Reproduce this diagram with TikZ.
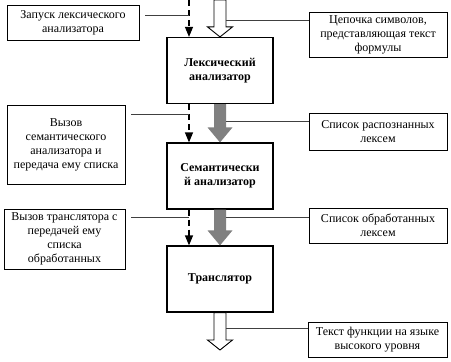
\documentclass[tikz,border=0pt]{standalone}
\usepackage{fontspec}
\setmainfont{Liberation Serif}
\usetikzlibrary{arrows.meta,calc}

\newcommand{\blockarrow}[4]{%
  \path[#1] ($(#2)+(-6,0)$) -- ($(#3)+(-6,#4)$) -- ($(#3)+(-12.5,#4)$) -- (#3)
    -- ($(#3)+(12.5,#4)$) -- ($(#3)+(6,#4)$) -- ($(#2)+(6,0)$) -- cycle;}

\begin{document}
\begin{tikzpicture}[x=1pt,y=1pt,
  stage/.style={draw,line width=1.2pt,minimum width=106,minimum height=66,inner sep=0,
    align=center,font=\fontsize{12}{14}\selectfont\bfseries},
  note/.style={draw,line width=0.7pt,inner sep=0,align=center,font=\fontsize{12}{14}\selectfont},
  callout/.style={line width=0.7pt,black!75},
  ctrl/.style={line width=1.2pt,dash pattern=on 6pt off 4pt,-{Triangle[width=8pt,length=10pt]}},
  hollow/.style={draw,fill=white,line width=0.9pt},
  solid/.style={fill=black!50}]
  \useasboundingbox (0,0) rectangle (451,-362);
  \node[stage] (lex) at (220,-70.5) {Лексический\\анализатор};
  \node[stage] (sem) at (220,-176) {Семантически\\й анализатор};
  \node[stage] (trans) at (220,-279) {Транслятор};
  \node[note,minimum width=132,minimum height=35] (start) at (73,-22.5) {Запуск лексического\\анализатора};
  \node[note,minimum width=118,minimum height=79] (callsem) at (66,-144.5) {Вызов\\семантического\\анализатора и\\передача ему списка};
  \node[note,minimum width=121,minimum height=60] (calltr) at (64.5,-239) {Вызов транслятора с\\передачей ему\\списка\\обработанных};
  \node[note,minimum width=138,minimum height=45] (chars) at (378,-34.5) {Цепочка символов,\\представляющая текст\\формулы};
  \node[note,minimum width=138,minimum height=37] (lexemes) at (378,-131.5) {Список распознанных\\лексем};
  \node[note,minimum width=138,minimum height=35] (done) at (378,-225.5) {Список обработанных\\лексем};
  \node[note,minimum width=139,minimum height=35] (result) at (377.5,-339.5) {Текст функции на языке\\высокого уровня};
  \coordinate (ctl) at (189,0);
  \coordinate (in) at (220,0);
  \coordinate (out) at (220,-350);
  \coordinate (shaft) at (226,0);
  \draw[ctrl] (ctl) -- (ctl |- lex.north);
  \draw[ctrl] (ctl |- lex.south) -- (ctl |- sem.north);
  \draw[ctrl] (ctl |- sem.south) -- (ctl |- trans.north);
  \blockarrow{hollow}{in}{lex.north}{10}
  \blockarrow{solid}{lex.south}{sem.north}{15}
  \blockarrow{solid}{sem.south}{trans.north}{15}
  \blockarrow{hollow}{trans.south}{out}{10}
  \draw[callout] ([shift={(6,-11)}]start.north east) coordinate (s1) -- (s1 -| ctl);
  \draw[callout] ([shift={(6,-10)}]callsem.north east) coordinate (s2) -- (s2 -| ctl);
  \draw[callout] ([shift={(6,-9)}]calltr.north east) coordinate (s3) -- (s3 -| ctl);
  \draw[callout] ([yshift=-9]chars.north west) coordinate (r1) -- (r1 -| shaft);
  \draw[callout] ([yshift=-9]lexemes.north west) coordinate (r2) -- (r2 -| shaft);
  \draw[callout] ([yshift=-10]done.north west) coordinate (r3) -- (r3 -| shaft);
  \draw[callout] ([yshift=-7]result.north west) coordinate (r4) -- (r4 -| shaft);
\end{tikzpicture}
\end{document}
